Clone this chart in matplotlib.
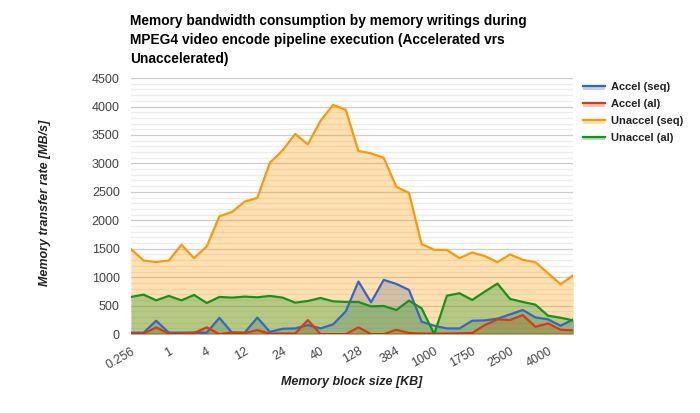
import matplotlib
matplotlib.use("Agg")
import matplotlib.pyplot as plt
import numpy as np
from matplotlib.lines import Line2D
from matplotlib.legend_handler import HandlerBase

plt.rcParams['font.family'] = ['Liberation Sans', 'DejaVu Sans']

tick_labels = ["0.256", "1", "4", "12", "24", "40", "128", "384", "1000", "1750", "2500", "4000"]
tick_every = 3

accel_seq = [25, 25, 235, 25, 25, 30, 25, 285, 25, 25, 290, 40, 94, 100, 159, 100, 171, 400,
             924, 559, 953, 882, 776, 218, 147, 100, 100, 235, 241, 271, 347, 424, 294, 259, 147, 259]
accel_al = [10, 10, 118, 10, 10, 20, 118, 0, 30, 20, 70, 10, 10, 10, 247, 0, 0, 0,
            118, 0, 0, 76, 20, 10, 10, 10, 15, 20, 159, 259, 247, 335, 130, 188, 76, 65]
unaccel_seq = [1495, 1294, 1265, 1294, 1570, 1335, 1541, 2070, 2147, 2329, 2394, 3012, 3229, 3518,
               3335, 3747, 4029, 3941, 3218, 3176, 3100, 2588, 2482, 1582, 1482, 1478, 1335, 1435,
               1370, 1265, 1400, 1306, 1265, 1071, 876, 1035]
unaccel_al = [653, 694, 594, 671, 594, 688, 547, 653, 641, 659, 647, 671, 641, 553, 582, 635, 576,
              565, 565, 488, 494, 424, 588, 453, 0, 676, 718, 600, 747, 888, 618, 565, 518, 324,
              288, 240]

series_names = ["Accel (seq)", "Accel (al)", "Unaccel (seq)", "Unaccel (al)"]
series_vals = [accel_seq, accel_al, unaccel_seq, unaccel_al]
colors = ["#3366cc", "#dc3912", "#ff9900", "#109618"]

fig = plt.figure(figsize=(7, 4.13), dpi=100)
ax = fig.add_axes([0.187, 0.191, 0.632, 0.620])

x = np.arange(len(unaccel_seq))
for vals, c, name in zip(series_vals, colors, series_names):
    ax.fill_between(x, 0, vals, color=c, alpha=0.3, linewidth=0, zorder=2)
    ax.plot(x, vals, color=c, linewidth=1.6, zorder=3, label=name)

ax.set_xlim(0, len(x) - 1)
ax.set_ylim(0, 4500)
ax.set_yticks(np.arange(0, 4501, 500))
ax.set_yticks(np.arange(0, 4501, 100), minor=True)
ax.grid(True, which='major', axis='y', color='#cccccc', linewidth=0.9, zorder=0)
ax.grid(True, which='minor', axis='y', color='#ececec', linewidth=0.9, zorder=0)
ax.set_axisbelow(True)
ax.axhline(0, color='#333333', linewidth=1, zorder=4)
for s in ax.spines.values():
    s.set_visible(False)
ax.tick_params(axis='both', which='both', length=0, colors='#444444', labelsize=9)
ax.tick_params(axis='y', pad=8)
ax.set_xticks(x[::tick_every])
ax.set_xticklabels(tick_labels, rotation=30, ha='right', rotation_mode='anchor')
ax.tick_params(axis='x', pad=8)

fig.text(0.503, 1 - 382 / 413, "Memory block size [KB]", fontsize=9, fontweight='bold',
         style='italic', color='#222222', ha='center', va='center')
fig.text(45 / 700, 1 - 203 / 413, "Memory transfer rate [MB/s]", fontsize=9, fontweight='bold',
         style='italic', color='#222222', ha='center', va='center', rotation=90)

fig.text(0.186, 1 - 14 / 413, "Memory bandwidth consumption by memory writings during\n"
         "MPEG4 video encode pipeline execution (Accelerated vrs\nUnaccelerated)",
         ha='left', va='top', fontsize=9.9, fontweight='bold', color='#000000', linespacing=1.45)


class LineFillHandler(HandlerBase):
    def create_artists(self, legend, orig_handle, xdescent, ydescent, width, height, fontsize, trans):
        c = orig_handle.get_color()
        rect = plt.Rectangle((-xdescent, -ydescent + height * 0.05), width, height * 0.45,
                             facecolor=c, alpha=0.3, edgecolor='none', transform=trans)
        ln = Line2D([-xdescent, -xdescent + width], [-ydescent + height * 0.5] * 2,
                    color=c, linewidth=1.6, transform=trans)
        return [rect, ln]


handles = [Line2D([0], [0], color=c) for c in colors]
leg = fig.legend(handles, series_names, loc='upper left', bbox_to_anchor=(0.822, 0.82),
                 frameon=False, prop={'weight': 'bold', 'size': 8}, handlelength=2.0,
                 handletextpad=0.5, labelspacing=0.62, borderaxespad=0.3,
                 handler_map={Line2D: LineFillHandler()})
for t in leg.get_texts():
    t.set_color('#222222')

fig.savefig("out.png", dpi=100)
